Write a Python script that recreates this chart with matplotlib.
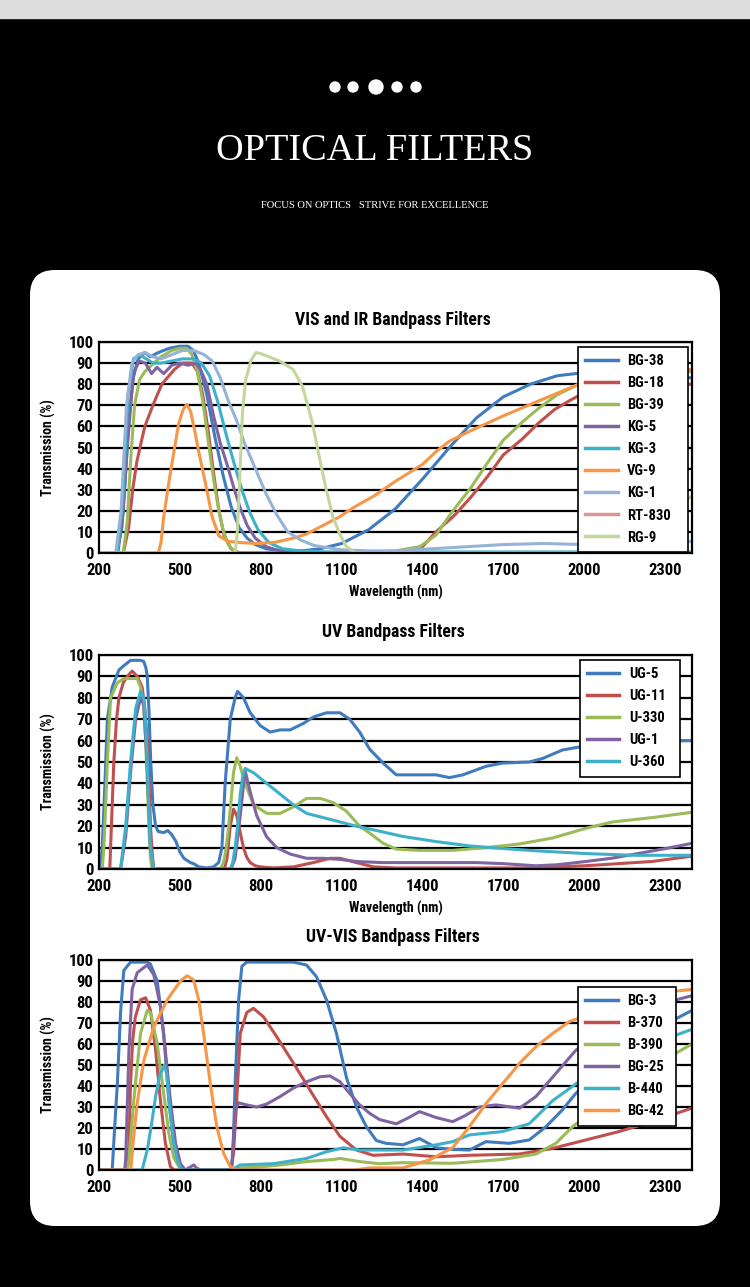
import numpy as np
import matplotlib
matplotlib.use("Agg")
import matplotlib.pyplot as plt
from matplotlib import font_manager
from matplotlib.patches import FancyBboxPatch, Rectangle, Circle

names = {f.name for f in font_manager.fontManager.ttflist}
NARROW = "Roboto Condensed" if "Roboto Condensed" in names else "DejaVu Sans"
SERIF = "Liberation Serif" if "Liberation Serif" in names else "DejaVu Serif"
plt.rcParams['font.family'] = [NARROW, 'DejaVu Sans']
plt.rcParams['font.weight'] = 'bold'
plt.rcParams['axes.labelweight'] = 'bold'

BLUE, RED, GREEN, PURPLE = "#3f7bbd", "#c0504d", "#9bbb59", "#8064a2"
TEAL, ORANGE, LBLUE, PINK, LGREEN = "#3fb0c9", "#f79646", "#95b3d7", "#d99694", "#c3d69b"

xticks = [200, 500, 800, 1100, 1400, 1700, 2000, 2300]
yticks = [0, 10, 20, 30, 40, 50, 60, 70, 80, 90, 100]

# ---- VIS and IR Bandpass Filters (wavelength nm, transmission %)
vis_labels = ["BG-38", "BG-18", "BG-39", "KG-5", "KG-3", "VG-9", "KG-1", "RT-830", "RG-9"]
bg38 = [(200, 0), (265, 0), (285, 12), (305, 50), (325, 82), (345, 92), (370, 95), (390, 93), (420, 95),
        (460, 97), (500, 98), (530, 98), (550, 96), (570, 90), (600, 75), (630, 55), (660, 37), (690, 22),
        (720, 12), (750, 7), (780, 4), (820, 2), (880, 1), (950, 1), (1020, 2), (1100, 4.5), (1200, 11),
        (1300, 21), (1400, 35), (1500, 50), (1600, 64), (1700, 74), (1800, 80), (1900, 84), (2000, 85.5),
        (2100, 85), (2250, 84), (2400, 83)]
bg18 = [(200, 0), (290, 0), (310, 12), (325, 30), (340, 43), (352, 50), (370, 60), (400, 70), (433, 80),
        (480, 87), (510, 90), (545, 90), (565, 86), (585, 75), (605, 58), (625, 38), (645, 20), (665, 8),
        (690, 2), (720, 0), (1250, 0), (1350, 1), (1400, 3), (1450, 10), (1520, 18), (1580, 26.5), (1640, 36),
        (1700, 46.5), (1770, 54), (1830, 61.5), (1890, 68), (1950, 72.5), (2000, 76), (2100, 78), (2250, 79),
        (2400, 80)]
bg39 = [(200, 0), (290, 0), (305, 15), (318, 45), (332, 70), (350, 82), (370, 86), (395, 89), (430, 93),
        (470, 96), (500, 97), (525, 97), (545, 94), (565, 86), (585, 72), (600, 58), (615, 44), (630, 31),
        (645, 20), (660, 11), (680, 4), (700, 1), (720, 0), (1200, 0), (1300, 1), (1390, 3), (1450, 8.5),
        (1510, 19.5), (1580, 31), (1640, 42.5), (1700, 53.5), (1770, 62), (1830, 68.5), (1900, 75), (1980, 80),
        (2100, 83), (2250, 85), (2400, 86)]
kg5 = [(200, 0), (270, 0), (290, 20), (310, 62), (330, 86), (350, 91), (372, 90), (395, 85), (415, 88),
       (440, 85), (470, 89), (500, 90), (530, 89), (560, 90), (580, 86), (600, 80), (625, 65), (650, 52),
       (675, 42), (700, 31), (725, 21), (750, 13), (780, 7), (820, 3), (870, 1), (920, 0), (2400, 0)]
kg3 = [(200, 0), (268, 0), (288, 25), (308, 75), (328, 92), (350, 94), (375, 92), (400, 90), (430, 90),
       (470, 91), (510, 92), (550, 92), (580, 90), (610, 84), (640, 72), (670, 57), (700, 43), (730, 30),
       (760, 19), (790, 11), (830, 5), (880, 2), (950, 1), (1050, 0.5), (2400, 0.5)]
vg9 = [(200, 0), (420, 0), (430, 5), (440, 17), (455, 30), (470, 42), (495, 61), (512, 68), (526, 70.5),
       (540, 67), (555, 58), (570, 48), (595, 33), (620, 17), (645, 8), (680, 5.5), (720, 5), (780, 4.5),
       (850, 5), (920, 7), (970, 9), (1030, 13), (1090, 17), (1150, 22), (1220, 27), (1300, 34), (1400, 42),
       (1450, 48), (1500, 53), (1580, 58), (1700, 65), (1830, 72), (1980, 80), (2100, 84), (2250, 86),
       (2400, 87)]
kg1 = [(200, 0), (262, 0), (282, 20), (302, 70), (322, 90), (345, 94), (370, 95), (400, 93), (430, 92),
       (470, 94), (510, 96), (550, 96), (590, 94), (620, 91), (650, 83), (680, 72), (710, 63), (740, 52),
       (780, 40), (820, 28), (860, 18), (900, 10), (950, 6), (1000, 3.5), (1100, 1.5), (1200, 1), (1300, 1),
       (1500, 2.5), (1700, 4), (1850, 4.5), (2000, 4), (2150, 4), (2300, 4.5), (2400, 5.5)]
rt830 = [(200, 0), (800, 0), (1600, 0), (2400, 0)]
rg9 = [(200, 0), (705, 0), (712, 8), (719, 26), (732, 66), (744, 82), (763, 91), (782, 95), (800, 94.5),
       (830, 93), (870, 91), (920, 87), (955, 79), (993, 61), (1018, 45), (1043, 30), (1068, 17), (1093, 9),
       (1118, 3), (1145, 0.5), (1170, 0), (2000, 0), (2100, 3), (2200, 10), (2300, 18), (2400, 27)]

# ---- UV Bandpass Filters
uv_labels = ["UG-5", "UG-11", "U-330", "UG-1", "U-360"]
ug5 = [(200, 0), (206, 2), (212, 10), (222, 40), (231, 70), (249, 85), (274, 93), (292, 95), (317, 97.5),
       (354, 97.5), (366, 97), (374, 94), (379, 90), (385, 75), (392, 50), (400, 30), (410, 20), (420, 17.5),
       (440, 17), (455, 18), (470, 16), (485, 13), (500, 8), (515, 5), (539, 3), (551, 2.5), (570, 1),
       (600, 0.5), (625, 1), (644, 3), (656, 10), (668, 40), (687, 70), (705, 80), (714, 83), (736, 80),
       (761, 73), (798, 67), (835, 64), (872, 65), (909, 65), (958, 68), (995, 71), (1044, 73), (1094, 73),
       (1130, 70), (1167, 64), (1204, 56), (1254, 49.5), (1303, 44), (1365, 44), (1451, 44), (1500, 42.7),
       (1550, 44), (1636, 48), (1697, 49.5), (1796, 50), (1845, 51.6), (1919, 55.6), (1981, 57), (2100, 59),
       (2250, 60), (2400, 60)]
ug11 = [(200, 0), (240, 0), (246, 20), (255, 50), (265, 70), (274, 80), (290, 87), (305, 90), (323, 92.5),
        (342, 90), (360, 85), (370, 75), (379, 60), (386, 40), (391, 20), (397, 8), (403, 0), (665, 0),
        (675, 5), (687, 20), (699, 28), (711, 25), (724, 17), (736, 10), (748, 5.5), (761, 3), (780, 1.5),
        (798, 1), (847, 0.5), (921, 1), (995, 3), (1057, 5), (1094, 5), (1155, 3), (1217, 1), (1300, 0.5),
        (1800, 0.5), (1900, 1), (2000, 1.5), (2067, 2), (2150, 2.7), (2251, 3.5), (2400, 6)]
u330 = [(200, 0), (212, 0), (218, 10), (225, 30), (231, 50), (243, 80), (268, 87), (292, 89), (342, 89),
        (354, 85), (366, 75), (373, 60), (379, 40), (385, 20), (391, 5), (397, 0), (650, 0), (662, 3),
        (672, 10), (681, 20), (690, 32), (699, 45), (711, 52), (724, 48), (742, 40), (773, 30), (822, 26),
        (872, 26), (921, 29), (970, 33), (1020, 33), (1069, 31), (1118, 27), (1167, 20), (1204, 16.8),
        (1254, 12), (1303, 9.3), (1389, 8.7), (1512, 8.7), (1636, 10), (1760, 11.7), (1883, 14.5), (2006, 19),
        (2105, 22), (2251, 24), (2400, 26.5)]
ug1 = [(200, 0), (280, 0), (299, 15), (317, 45), (336, 70), (354, 80), (366, 77), (379, 48), (391, 10),
       (403, 0), (690, 0), (705, 5), (724, 25), (742, 46), (761, 36), (785, 25), (822, 15), (859, 10),
       (909, 7), (970, 5), (1032, 5), (1094, 4.5), (1155, 3.5), (1250, 3), (1400, 3), (1600, 3), (1700, 2.5),
       (1821, 1.5), (1900, 2), (2006, 3.5), (2100, 5), (2190, 7), (2300, 9.5), (2400, 12)]
u360 = [(200, 0), (280, 0), (299, 20), (317, 50), (336, 75), (354, 83), (366, 80), (373, 68), (379, 50),
        (385, 28), (391, 10), (403, 0), (687, 0), (696, 3), (705, 10), (714, 20), (724, 35), (733, 43),
        (742, 47), (773, 45), (822, 40), (872, 35), (921, 30), (970, 26), (1032, 24), (1094, 22), (1155, 20),
        (1229, 18), (1328, 15.2), (1451, 12.8), (1574, 10.8), (1697, 9.6), (1821, 8.5), (2006, 7.2),
        (2190, 6.4), (2400, 6.4)]

# ---- UV-VIS Bandpass Filters
uvvis_labels = ["BG-3", "B-370", "B-390", "BG-25", "B-440", "BG-42"]
bg3 = [(200, 0), (249, 0), (258, 20), (268, 41), (280, 75), (292, 95), (317, 99), (379, 99), (391, 98),
       (416, 90), (440, 65), (459, 33), (477, 12.7), (496, 3), (508, 0.5), (520, 0), (690, 0), (697, 8),
       (705, 41), (718, 81), (730, 97), (748, 99), (921, 99), (970, 97.6), (1007, 92), (1044, 81), (1081, 65),
       (1118, 44), (1155, 30), (1192, 20.6), (1229, 14), (1265, 12.7), (1328, 12), (1389, 15), (1451, 10.6),
       (1512, 9.8), (1574, 9.5), (1636, 13.5), (1722, 12.7), (1796, 14.3), (1858, 20.6), (1919, 28.6),
       (1969, 36.5), (2100, 52), (2250, 66), (2400, 76)]
b370 = [(200, 0), (305, 0), (311, 10), (317, 41), (325, 62), (335, 73), (354, 81), (373, 82), (391, 76),
        (410, 57), (428, 33), (446, 13), (465, 1.5), (480, 0), (690, 0), (699, 8), (711, 33), (724, 65),
        (748, 75), (773, 77), (810, 73), (859, 63.5), (921, 51), (983, 38), (1044, 25.4), (1094, 16),
        (1155, 9.5), (1217, 7), (1328, 7.6), (1451, 6.3), (1574, 7), (1759, 7.6), (1883, 10.3), (2006, 14.3),
        (2129, 18.3), (2252, 23), (2400, 29.5)]
b390 = [(200, 0), (305, 0), (311, 5), (329, 33), (354, 65), (379, 76), (391, 75), (416, 60), (440, 36.5),
        (459, 17.5), (477, 6), (496, 1.6), (508, 0), (690, 0), (724, 1), (800, 1.5), (880, 2.5), (970, 4),
        (1069, 5), (1094, 5.5), (1167, 4), (1241, 3), (1328, 3.5), (1512, 3.2), (1697, 5), (1821, 7.6),
        (1895, 12.7), (1957, 20.6), (2100, 35), (2250, 49), (2400, 60)]
bg25 = [(200, 0), (295, 0), (299, 5), (311, 57), (323, 86), (342, 94), (379, 97.6), (403, 93), (428, 78),
        (446, 57), (465, 33), (484, 12.7), (502, 3), (520, 0), (540, 1.5), (551, 2.4), (562, 1), (575, 0),
        (690, 0), (693, 2), (705, 28.6), (718, 32), (748, 31), (785, 30), (822, 31.4), (872, 35), (921, 39),
        (970, 42), (1020, 44.4), (1057, 44.8), (1094, 42), (1130, 36.5), (1167, 31), (1204, 27), (1241, 24),
        (1303, 22), (1350, 25), (1389, 27.8), (1450, 25), (1512, 23), (1560, 26), (1611, 30), (1673, 31),
        (1760, 29.4), (1821, 35), (1895, 46), (1969, 57), (2100, 70), (2250, 78), (2400, 83)]
b440 = [(200, 0), (360, 0), (380, 10), (395, 22), (410, 35), (425, 45), (443, 50), (452, 45), (462, 30),
        (475, 15), (490, 5), (505, 0), (690, 0), (724, 2.4), (847, 3), (970, 5.5), (1044, 8.7), (1106, 10.6),
        (1167, 9.5), (1241, 9.5), (1328, 9.5), (1451, 12), (1512, 13.5), (1574, 16.7), (1697, 18.3),
        (1796, 22), (1883, 33), (1969, 41), (2100, 52), (2250, 60), (2400, 67)]
bg42 = [(200, 0), (318, 0), (328, 15), (342, 32), (366, 52), (403, 68), (453, 81), (502, 90), (527, 92.5),
        (551, 90.5), (570, 81), (588, 65), (613, 41), (637, 20.6), (662, 8), (687, 1.6), (710, 0), (1150, 0),
        (1204, 1), (1328, 1), (1426, 4.8), (1512, 10.6), (1574, 20.6), (1636, 31.7), (1697, 41), (1760, 50.8),
        (1821, 58.7), (1883, 65), (1944, 70.6), (2100, 78), (2250, 84), (2400, 86)]


def draw_chart(ax, series, labels, colors, legbox, xlabel=True):
    for s, lab, c in zip(series, labels, colors):
        d = np.array(s, dtype=float)
        ax.plot(d[:, 0], d[:, 1], color=c, lw=2.2, label=lab, solid_joinstyle='round')
    ax.set_xlim(200, 2400)
    ax.set_ylim(0, 100)
    ax.set_xticks(xticks)
    ax.set_yticks(yticks)
    ax.yaxis.grid(True, color='black', lw=1.6)
    ax.set_axisbelow(True)
    for sp in ax.spines.values():
        sp.set_color('black')
        sp.set_linewidth(1.6)
    ax.tick_params(axis='x', length=0, labelsize=12, pad=7)
    ax.tick_params(axis='y', length=0, labelsize=12, pad=4)
    ax.set_ylabel("Transmission (%)", fontsize=10)
    ax.yaxis.set_label_coords(-0.072, 0.5)
    if xlabel:
        ax.set_xlabel("Wavelength (nm)", fontsize=10)
        ax.xaxis.set_label_coords(0.5, -0.15)
    leg = ax.legend(loc='upper left', bbox_to_anchor=legbox, mode='expand', borderaxespad=0,
                    fontsize=10.5, frameon=True, fancybox=False, framealpha=1, edgecolor='black',
                    handlelength=2.2, handletextpad=0.65, labelspacing=0.55, borderpad=0.5)
    leg.get_frame().set_linewidth(1.2)
    for ln in leg.get_lines():
        ln.set_linewidth(2.5)


W, H = 750, 1287
fig = plt.figure(figsize=(W / 100, H / 100), dpi=100, facecolor='black')

bg = fig.add_axes([0, 0, 1, 1])
bg.set_xlim(0, W)
bg.set_ylim(H, 0)
bg.axis('off')
bg.add_patch(Rectangle((0, 0), W, 18, color='#dddddd'))
bg.add_patch(FancyBboxPatch((30, 270), 690, 956, boxstyle="round,pad=0,rounding_size=25",
                            fc='white', ec='none'))
for x, r in zip([335, 353, 376, 397, 416], [5, 5, 7, 5, 5]):
    bg.add_patch(Circle((x, 87), r, color='white'))
bg.text(375, 151, "OPTICAL FILTERS", color='white', family=SERIF, weight='normal',
        fontsize=27.5, ha='center', va='center')
bg.text(375, 206, "FOCUS ON OPTICS   STRIVE FOR EXCELLENCE", color='white', family=SERIF,
        weight='normal', fontsize=7.6, ha='center', va='center')
bg.text(393, 320, "VIS and IR Bandpass Filters", fontsize=12.8, ha='center', va='center')
bg.text(393, 632, "UV Bandpass Filters", fontsize=12.8, ha='center', va='center')
bg.text(393, 937, "UV-VIS Bandpass Filters", fontsize=12.8, ha='center', va='center')

left, width = 99 / W, 593 / W
ax1 = fig.add_axes([left, (H - 553) / H, width, 211 / H])
ax2 = fig.add_axes([left, (H - 869) / H, width, 214 / H])
ax3 = fig.add_axes([left, (H - 1170) / H, width, 210 / H])

draw_chart(ax1, [bg38, bg18, bg39, kg5, kg3, vg9, kg1, rt830, rg9], vis_labels,
           [BLUE, RED, GREEN, PURPLE, TEAL, ORANGE, LBLUE, PINK, LGREEN], (0.808, 0, 0.185, 0.976))
draw_chart(ax2, [ug5, ug11, u330, ug1, u360], uv_labels,
           [BLUE, RED, GREEN, PURPLE, TEAL], (0.811, 0, 0.169, 0.977))
draw_chart(ax3, [bg3, b370, b390, bg25, b440, bg42], uvvis_labels,
           [BLUE, RED, GREEN, PURPLE, TEAL, ORANGE], (0.808, 0, 0.165, 0.871), xlabel=False)

fig.savefig("out.png", dpi=100, facecolor='black')
plt.close()
